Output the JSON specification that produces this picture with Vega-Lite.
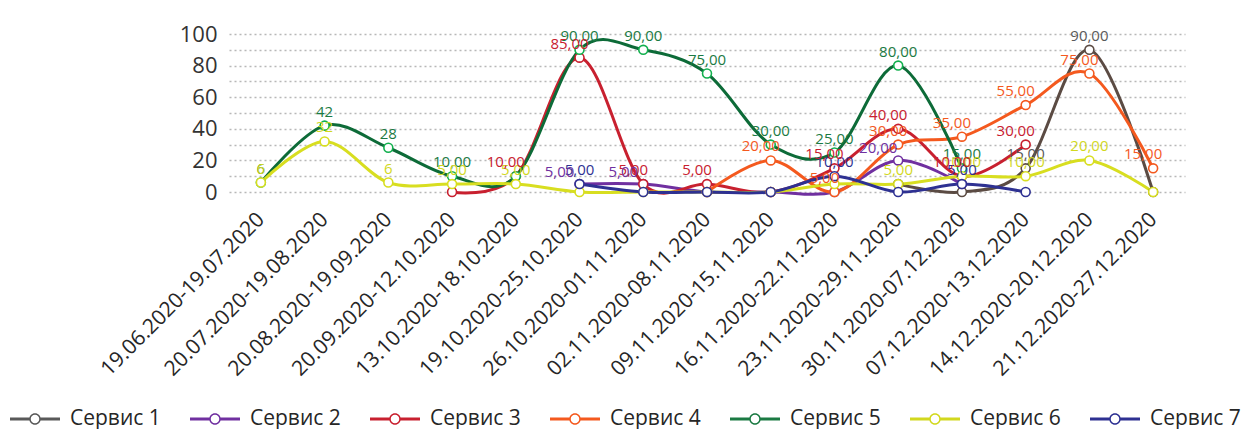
{
  "$schema": "https://vega.github.io/schema/vega-lite/v6.json",
  "width": 956,
  "height": 158,
  "autosize": {"type": "none"},
  "padding": {"left": 229, "top": 34, "right": 69, "bottom": 237},
  "config": {"view": {"stroke": null}, "font": "Open Sans"},
  "data": {"values": [
    {"s": "Сервис 1", "p": "23.11.2020-29.11.2020", "v": 5, "t": ""},
    {"s": "Сервис 1", "p": "30.11.2020-07.12.2020", "v": 0, "t": ""},
    {"s": "Сервис 1", "p": "07.12.2020-13.12.2020", "v": 15, "t": "15,00"},
    {"s": "Сервис 1", "p": "14.12.2020-20.12.2020", "v": 90, "t": "90,00"},
    {"s": "Сервис 1", "p": "21.12.2020-27.12.2020", "v": 0, "t": ""},

    {"s": "Сервис 2", "p": "19.10.2020-25.10.2020", "v": 5, "t": "5,00"},
    {"s": "Сервис 2", "p": "26.10.2020-01.11.2020", "v": 5, "t": "5,00"},
    {"s": "Сервис 2", "p": "02.11.2020-08.11.2020", "v": 0, "t": ""},
    {"s": "Сервис 2", "p": "09.11.2020-15.11.2020", "v": 0, "t": ""},
    {"s": "Сервис 2", "p": "16.11.2020-22.11.2020", "v": 0, "t": ""},
    {"s": "Сервис 2", "p": "23.11.2020-29.11.2020", "v": 20, "t": "20,00"},
    {"s": "Сервис 2", "p": "30.11.2020-07.12.2020", "v": 5, "t": ""},

    {"s": "Сервис 3", "p": "20.09.2020-12.10.2020", "v": 0, "t": ""},
    {"s": "Сервис 3", "p": "13.10.2020-18.10.2020", "v": 10, "t": "10,00"},
    {"s": "Сервис 3", "p": "19.10.2020-25.10.2020", "v": 85, "t": "85,00"},
    {"s": "Сервис 3", "p": "26.10.2020-01.11.2020", "v": 5, "t": "5,00"},
    {"s": "Сервис 3", "p": "02.11.2020-08.11.2020", "v": 5, "t": "5,00"},
    {"s": "Сервис 3", "p": "09.11.2020-15.11.2020", "v": 0, "t": ""},
    {"s": "Сервис 3", "p": "16.11.2020-22.11.2020", "v": 15, "t": "15,00"},
    {"s": "Сервис 3", "p": "23.11.2020-29.11.2020", "v": 40, "t": "40,00"},
    {"s": "Сервис 3", "p": "30.11.2020-07.12.2020", "v": 10, "t": "10,00"},
    {"s": "Сервис 3", "p": "07.12.2020-13.12.2020", "v": 30, "t": "30,00"},

    {"s": "Сервис 4", "p": "02.11.2020-08.11.2020", "v": 0, "t": ""},
    {"s": "Сервис 4", "p": "09.11.2020-15.11.2020", "v": 20, "t": "20,00"},
    {"s": "Сервис 4", "p": "16.11.2020-22.11.2020", "v": 0, "t": "5,00"},
    {"s": "Сервис 4", "p": "23.11.2020-29.11.2020", "v": 30, "t": "30,00"},
    {"s": "Сервис 4", "p": "30.11.2020-07.12.2020", "v": 35, "t": "35,00"},
    {"s": "Сервис 4", "p": "07.12.2020-13.12.2020", "v": 55, "t": "55,00"},
    {"s": "Сервис 4", "p": "14.12.2020-20.12.2020", "v": 75, "t": "75,00"},
    {"s": "Сервис 4", "p": "21.12.2020-27.12.2020", "v": 15, "t": "15,00"},

    {"s": "Сервис 5", "p": "19.06.2020-19.07.2020", "v": 6, "t": "6"},
    {"s": "Сервис 5", "p": "20.07.2020-19.08.2020", "v": 42, "t": "42"},
    {"s": "Сервис 5", "p": "20.08.2020-19.09.2020", "v": 28, "t": "28"},
    {"s": "Сервис 5", "p": "20.09.2020-12.10.2020", "v": 10, "t": "10,00"},
    {"s": "Сервис 5", "p": "13.10.2020-18.10.2020", "v": 10, "t": ""},
    {"s": "Сервис 5", "p": "19.10.2020-25.10.2020", "v": 90, "t": "90,00"},
    {"s": "Сервис 5", "p": "26.10.2020-01.11.2020", "v": 90, "t": "90,00"},
    {"s": "Сервис 5", "p": "02.11.2020-08.11.2020", "v": 75, "t": "75,00"},
    {"s": "Сервис 5", "p": "09.11.2020-15.11.2020", "v": 30, "t": "30,00"},
    {"s": "Сервис 5", "p": "16.11.2020-22.11.2020", "v": 25, "t": "25,00"},
    {"s": "Сервис 5", "p": "23.11.2020-29.11.2020", "v": 80, "t": "80,00"},
    {"s": "Сервис 5", "p": "30.11.2020-07.12.2020", "v": 15, "t": "15,00"},

    {"s": "Сервис 6", "p": "19.06.2020-19.07.2020", "v": 6, "t": "6"},
    {"s": "Сервис 6", "p": "20.07.2020-19.08.2020", "v": 32, "t": "32"},
    {"s": "Сервис 6", "p": "20.08.2020-19.09.2020", "v": 6, "t": "6"},
    {"s": "Сервис 6", "p": "20.09.2020-12.10.2020", "v": 5, "t": "5,00"},
    {"s": "Сервис 6", "p": "13.10.2020-18.10.2020", "v": 5, "t": "5,00"},
    {"s": "Сервис 6", "p": "19.10.2020-25.10.2020", "v": 0, "t": ""},
    {"s": "Сервис 6", "p": "26.10.2020-01.11.2020", "v": 0, "t": ""},
    {"s": "Сервис 6", "p": "02.11.2020-08.11.2020", "v": 0, "t": ""},
    {"s": "Сервис 6", "p": "09.11.2020-15.11.2020", "v": 0, "t": ""},
    {"s": "Сервис 6", "p": "16.11.2020-22.11.2020", "v": 5, "t": ""},
    {"s": "Сервис 6", "p": "23.11.2020-29.11.2020", "v": 5, "t": "5,00"},
    {"s": "Сервис 6", "p": "30.11.2020-07.12.2020", "v": 10, "t": "10,00"},
    {"s": "Сервис 6", "p": "07.12.2020-13.12.2020", "v": 10, "t": "10,00"},
    {"s": "Сервис 6", "p": "14.12.2020-20.12.2020", "v": 20, "t": "20,00"},
    {"s": "Сервис 6", "p": "21.12.2020-27.12.2020", "v": 0, "t": ""},

    {"s": "Сервис 7", "p": "19.10.2020-25.10.2020", "v": 5, "t": "5,00"},
    {"s": "Сервис 7", "p": "26.10.2020-01.11.2020", "v": 0, "t": ""},
    {"s": "Сервис 7", "p": "02.11.2020-08.11.2020", "v": 0, "t": ""},
    {"s": "Сервис 7", "p": "09.11.2020-15.11.2020", "v": 0, "t": ""},
    {"s": "Сервис 7", "p": "16.11.2020-22.11.2020", "v": 10, "t": "10,00"},
    {"s": "Сервис 7", "p": "23.11.2020-29.11.2020", "v": 0, "t": ""},
    {"s": "Сервис 7", "p": "30.11.2020-07.12.2020", "v": 5, "t": "5,00"},
    {"s": "Сервис 7", "p": "07.12.2020-13.12.2020", "v": 0, "t": ""}
  ]},
  "encoding": {
    "x": {
      "field": "p", "type": "ordinal",
      "scale": {"type": "point", "padding": 0.5, "domain": [
        "19.06.2020-19.07.2020", "20.07.2020-19.08.2020", "20.08.2020-19.09.2020",
        "20.09.2020-12.10.2020", "13.10.2020-18.10.2020", "19.10.2020-25.10.2020",
        "26.10.2020-01.11.2020", "02.11.2020-08.11.2020", "09.11.2020-15.11.2020",
        "16.11.2020-22.11.2020", "23.11.2020-29.11.2020", "30.11.2020-07.12.2020",
        "07.12.2020-13.12.2020", "14.12.2020-20.12.2020", "21.12.2020-27.12.2020"]},
      "axis": {"title": null, "labelAngle": -45, "labelFontSize": 21, "labelColor": "#262626",
               "labelBaseline": "middle", "labelAlign": "right",
               "ticks": false, "domain": false, "grid": false, "labelPadding": 24, "labelLimit": 400}
    },
    "y": {
      "field": "v", "type": "quantitative",
      "scale": {"domain": [0, 100], "nice": false, "zero": true},
      "axis": {"title": null, "values": [0, 10, 20, 30, 40, 50, 60, 70, 80, 90, 100],
               "labelExpr": "datum.value % 20 === 0 ? datum.label : ''",
               "grid": true, "gridDash": [2, 3], "gridColor": "#b8b8b8", "gridWidth": 1.5,
               "ticks": false, "domain": false, "labelFontSize": 22, "labelColor": "#333333",
               "labelPadding": 12}
    }
  },
  "layer": [
    {
      "mark": {"type": "line", "interpolate": "cardinal", "strokeWidth": 3},
      "encoding": {
        "color": {
          "field": "s", "type": "nominal",
          "scale": {"domain": ["Сервис 1", "Сервис 2", "Сервис 3", "Сервис 4", "Сервис 5", "Сервис 6", "Сервис 7"],
                    "range": ["#5b4b43", "#7030a0", "#c8202f", "#f4591e", "#0d6b38", "#d8de20", "#2e3192"]},
          "legend": {
            "title": null, "orient": "none", "legendX": -219, "legendY": 360,
            "direction": "horizontal", "columns": 7, "padding": 0,
            "symbolType": "M-1,-0.06L-0.2,-0.06L-0.2,0.06L-1,0.06ZM0.2,-0.06L1,-0.06L1,0.06L0.2,0.06ZM0.23,0A0.23,0.23,0,1,1,-0.23,0A0.23,0.23,0,1,1,0.23,0ZM0.17,0A0.17,0.17,0,1,0,-0.17,0A0.17,0.17,0,1,0,0.17,0Z",
            "symbolSize": 2500, "symbolStrokeWidth": 0,
            "labelFontSize": 21, "labelColor": "#262626", "labelOffset": 10, "columnPadding": 29
          }
        }
      }
    },
    {
      "mark": {"type": "point", "shape": "circle", "filled": false, "fill": "white", "size": 80, "strokeWidth": 1.6, "opacity": 1},
      "encoding": {
        "stroke": {
          "field": "s", "type": "nominal",
          "scale": {"domain": ["Сервис 1", "Сервис 2", "Сервис 3", "Сервис 4", "Сервис 5", "Сервис 6", "Сервис 7"],
                    "range": ["#5b4b43", "#7030a0", "#c8202f", "#f4591e", "#12b04e", "#d8de20", "#2e3192"]},
          "legend": null
        }
      }
    },
    {
      "transform": [{"filter": "datum.t != '' && (datum.s == 'Сервис 1' || datum.s == 'Сервис 5' || datum.s == 'Сервис 6' || datum.s == 'Сервис 7')"}],
      "mark": {"type": "text", "dy": -14, "fontSize": 15},
      "encoding": {
        "text": {"field": "t"},
        "fill": {
          "field": "s", "type": "nominal",
          "scale": {"domain": ["Сервис 1", "Сервис 2", "Сервис 3", "Сервис 4", "Сервис 5", "Сервис 6", "Сервис 7"],
                    "range": ["#595959", "#7030a0", "#c8202f", "#f4591e", "#1b7a43", "#d2d81e", "#2e3192"]},
          "legend": null
        }
      }
    },
    {
      "transform": [{"filter": "datum.t != '' && (datum.s == 'Сервис 3' || datum.s == 'Сервис 4')"}],
      "mark": {"type": "text", "dy": -14, "dx": -10, "fontSize": 15},
      "encoding": {
        "text": {"field": "t"},
        "fill": {"field": "s", "type": "nominal", "legend": null}
      }
    },
    {
      "transform": [{"filter": "datum.t != '' && datum.s == 'Сервис 2'"}],
      "mark": {"type": "text", "dy": -12, "dx": -20, "fontSize": 15},
      "encoding": {
        "text": {"field": "t"},
        "fill": {"field": "s", "type": "nominal", "legend": null}
      }
    }
  ]
}
